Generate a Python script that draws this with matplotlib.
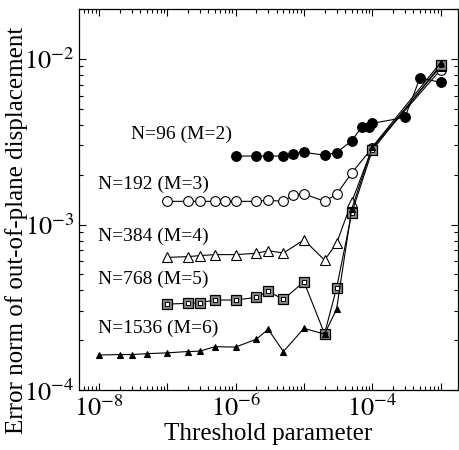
import matplotlib
matplotlib.use('Agg')
import matplotlib.pyplot as plt
import matplotlib.ticker as mticker
import numpy as np

plt.rcParams['font.family'] = ['Liberation Serif', 'DejaVu Serif']
plt.rcParams['mathtext.fontset'] = 'stix'

# threshold values and error norms
x_96 = [1e-6, 2e-6, 3e-6, 5e-6, 7e-6, 1e-5, 2e-5, 3e-5, 5e-5, 7e-5, 9e-5, 1e-4, 3e-4, 5e-4, 1e-3]
y_96 = [2.59e-3, 2.59e-3, 2.59e-3, 2.59e-3, 2.68e-3, 2.73e-3, 2.62e-3, 2.72e-3, 3.2e-3, 3.89e-3,
        3.89e-3, 4.08e-3, 4.43e-3, 7.7e-3, 7.2e-3]

x_192 = [1e-7, 2e-7, 3e-7, 5e-7, 7e-7, 1e-6, 2e-6, 3e-6, 5e-6, 7e-6, 1e-5, 2e-5, 3e-5, 5e-5, 1e-4, 1e-3]
y_192 = [1.38e-3, 1.38e-3, 1.38e-3, 1.38e-3, 1.38e-3, 1.38e-3, 1.38e-3, 1.40e-3, 1.38e-3, 1.51e-3,
         1.53e-3, 1.38e-3, 1.52e-3, 2.05e-3, 2.9e-3, 8.6e-3]

x_384 = [1e-7, 2e-7, 3e-7, 5e-7, 1e-6, 2e-6, 3e-6, 5e-6, 1e-5, 2e-5, 3e-5, 5e-5, 1e-4, 1e-3]
y_384 = [6.33e-4, 6.4e-4, 6.49e-4, 6.58e-4, 6.58e-4, 6.7e-4, 6.95e-4, 6.73e-4, 8.07e-4, 6.1e-4,
         7.7e-4, 1.37e-3, 2.9e-3, 9.0e-3]

x_768 = [1e-7, 2e-7, 3e-7, 5e-7, 1e-6, 2e-6, 3e-6, 5e-6, 1e-5, 2e-5, 3e-5, 5e-5, 1e-4, 1e-3]
y_768 = [3.31e-4, 3.34e-4, 3.37e-4, 3.5e-4, 3.5e-4, 3.63e-4, 3.95e-4, 3.53e-4, 4.51e-4, 2.19e-4,
         4.13e-4, 1.17e-3, 2.81e-3, 9.2e-3]

x_1536 = [1e-8, 2e-8, 3e-8, 5e-8, 1e-7, 2e-7, 3e-7, 5e-7, 1e-6, 2e-6, 3e-6, 5e-6, 1e-5, 2e-5, 3e-5,
          5e-5, 1e-4, 1e-3]
y_1536 = [1.63e-4, 1.64e-4, 1.64e-4, 1.66e-4, 1.68e-4, 1.71e-4, 1.72e-4, 1.83e-4, 1.82e-4, 2.03e-4,
          2.33e-4, 1.71e-4, 2.36e-4, 2.18e-4, 3.08e-4, 1.24e-3, 2.94e-3, 9.5e-3]

labels = ['N=96 (M=2)', 'N=192 (M=3)', 'N=384 (M=4)', 'N=768 (M=5)', 'N=1536 (M=6)']

fig = plt.figure(figsize=(4.59, 4.5), dpi=100)
ax = fig.add_axes([0.172, 0.133, 0.826, 0.847])

lw = 0.8
ax.plot(x_96, y_96, '-o', color='black', lw=lw, ms=7, mfc='black', mec='black', mew=0.8)
ax.plot(x_192, y_192, '-o', color='black', lw=lw, ms=7, mfc='white', mec='black', mew=0.8)
ax.plot(x_384, y_384, '-^', color='black', lw=lw, ms=6.5, mfc='white', mec='black', mew=0.8)
ax.plot(x_768, y_768, '-s', color='black', lw=lw, ms=6.5, mfc='#888888', mec='black', mew=0.9)
ax.plot(x_768, y_768, 's', color='black', ms=2.8, mfc='white', mec='black', mew=0.7)
ax.plot(x_1536, y_1536, '-^', color='black', lw=lw, ms=5, mfc='black', mec='black', mew=0.8)

# label positions (axes fraction)
label_pos = [(0.138, 0.672), (0.05, 0.54), (0.05, 0.403), (0.05, 0.29), (0.05, 0.163)]
for txt, (lx, ly) in zip(labels, label_pos):
    ax.text(lx, ly, txt, transform=ax.transAxes, fontsize=14, va='center', ha='left')

ax.set_xscale('log')
ax.set_yscale('log')
ax.set_xlim(5.1e-9, 1.8e-3)
ax.set_ylim(1e-4, 2.0e-2)

ax.xaxis.set_major_locator(mticker.LogLocator(base=10, numticks=20))
ax.xaxis.set_minor_locator(mticker.LogLocator(base=10, subs=np.arange(2, 10), numticks=20))
ax.xaxis.set_minor_formatter(mticker.NullFormatter())

def xfmt(v, pos):
    e = int(round(np.log10(v)))
    if e in (-8, -6, -4):
        return r'$10^{%d}$' % e
    return ''

ax.xaxis.set_major_formatter(mticker.FuncFormatter(xfmt))
ax.yaxis.set_major_formatter(mticker.FuncFormatter(lambda v, p: r'$10^{%d}$' % int(round(np.log10(v)))))
ax.yaxis.set_minor_formatter(mticker.NullFormatter())

ax.tick_params(which='both', direction='in', top=True, right=True, labelsize=19, width=0.8)
ax.tick_params(which='major', length=5)
ax.tick_params(which='minor', length=3)
for s in ax.spines.values():
    s.set_linewidth(0.9)

ax.set_xlabel('Threshold parameter', fontsize=18, labelpad=1)
# y label sits a bit below the axes centre in the original
fig.text(0.037, 0.487, 'Error norm of out-of-plane displacement', fontsize=18,
         rotation=90, ha='center', va='center')

fig.savefig('out.png', dpi=100)
